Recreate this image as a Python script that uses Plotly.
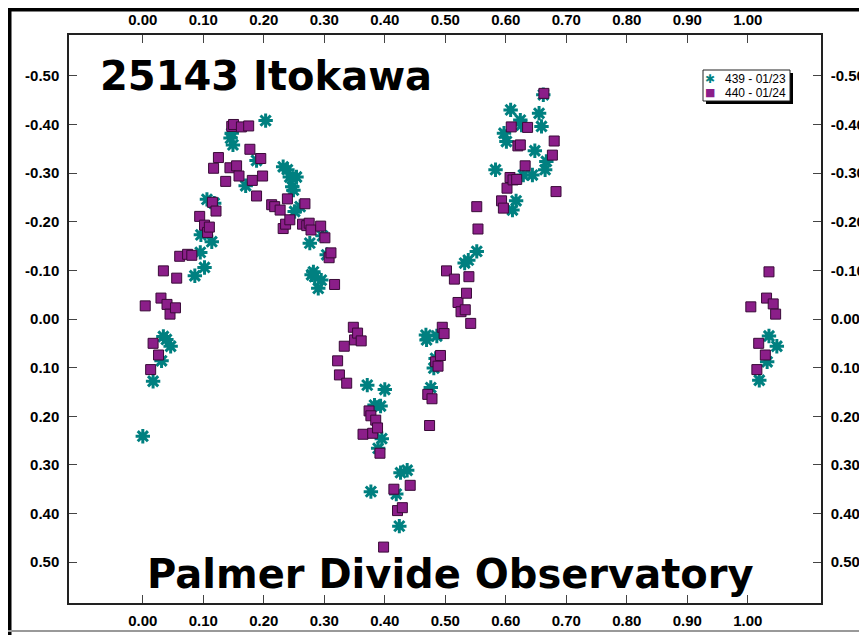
import plotly.graph_objects as go

# ---- data ----
phase_439 = [0.000, 0.017, 0.031, 0.034, 0.039, 0.046, 0.086, 0.095, 0.096, 0.102,
             0.106, 0.114, 0.118, 0.145, 0.147, 0.149, 0.170, 0.188, 0.203, 0.232,
             0.239, 0.243, 0.254, 0.247, 0.249, 0.251, 0.260, 0.276, 0.279, 0.282,
             0.284, 0.290, 0.295, 0.297, 0.304, 0.371, 0.377, 0.383, 0.389, 0.393,
             0.395, 0.400, 0.419, 0.424, 0.426, 0.437, 0.468, 0.469, 0.476, 0.481,
             0.484, 0.486, 0.532, 0.538, 0.552, 0.583, 0.597, 0.601, 0.608, 0.611,
             0.617, 0.624, 0.626, 0.629, 0.644, 0.648, 0.655, 0.659, 0.662, 0.665,
             0.667, 1.019, 1.032, 1.035, 1.048]
mag_439 = [0.241, 0.128, 0.086, 0.036, 0.042, 0.056, -0.089, -0.137, -0.173, -0.106,
           -0.246, -0.159, -0.238, -0.372, -0.382, -0.358, -0.274, -0.326, -0.408, -0.313,
           -0.307, -0.292, -0.292, -0.272, -0.265, -0.221, -0.231, -0.156, -0.091, -0.097,
           -0.087, -0.063, -0.080, -0.171, -0.132, 0.136, 0.355, 0.177, 0.266, 0.179,
           0.246, 0.145, 0.360, 0.426, 0.316, 0.311, 0.033, 0.043, 0.141, 0.101,
           0.081, 0.035, -0.115, -0.121, -0.139, -0.307, -0.382, -0.365, -0.430, -0.224,
           -0.243, -0.409, -0.399, -0.296, -0.296, -0.346, -0.423, -0.396, -0.461, -0.307,
           -0.324, 0.126, 0.088, 0.035, 0.056]

phase_440 = [0.004, 0.013, 0.017, 0.026, 0.030, 0.034, 0.040, 0.045, 0.054, 0.056,
             0.061, 0.074, 0.081, 0.094, 0.102, 0.107, 0.110, 0.115, 0.117, 0.121,
             0.125, 0.137, 0.144, 0.147, 0.150, 0.155, 0.159, 0.163, 0.175, 0.177,
             0.181, 0.188, 0.195, 0.198, 0.213, 0.218, 0.227, 0.232, 0.236, 0.239,
             0.243, 0.264, 0.268, 0.271, 0.275, 0.278, 0.294, 0.301, 0.308, 0.311,
             0.317, 0.322, 0.325, 0.333, 0.337, 0.348, 0.350, 0.355, 0.361, 0.364,
             0.374, 0.377, 0.380, 0.385, 0.388, 0.392, 0.398, 0.415, 0.421, 0.429,
             0.442, 0.471, 0.474, 0.478, 0.484, 0.488, 0.492, 0.495, 0.498, 0.502,
             0.515, 0.521, 0.526, 0.533, 0.535, 0.542, 0.539, 0.552, 0.554, 0.593,
             0.596, 0.602, 0.607, 0.609, 0.612, 0.618, 0.620, 0.624, 0.632, 0.636,
             0.663, 0.677, 0.680, 0.683, 1.005, 1.015, 1.018, 1.029, 1.031, 1.035,
             1.042, 1.046]
mag_440 = [-0.027, 0.104, 0.050, 0.074, -0.043, -0.099, -0.030, -0.010, -0.023, -0.084,
           -0.129, -0.133, -0.131, -0.211, -0.193, -0.178, -0.189, -0.240, -0.310, -0.222,
           -0.332, -0.283, -0.311, -0.396, -0.400, -0.315, -0.294, -0.395, -0.397, -0.349,
           -0.285, -0.253, -0.330, -0.294, -0.235, -0.231, -0.224, -0.186, -0.195, -0.247,
           -0.204, -0.195, -0.237, -0.192, -0.197, -0.183, -0.191, -0.167, -0.126, -0.136,
           -0.071, 0.086, 0.115, 0.056, 0.132, 0.017, 0.043, 0.029, 0.045, 0.237,
           0.189, 0.199, 0.235, 0.208, 0.224, 0.276, 0.469, 0.350, 0.394, 0.388,
           0.342, 0.155, 0.219, 0.164, 0.088, 0.097, 0.075, 0.017, 0.030, -0.099,
           -0.082, -0.034, -0.015, -0.019, -0.053, 0.009, -0.087, -0.231, -0.185, -0.243,
           -0.228, -0.269, -0.291, -0.395, -0.286, -0.287, -0.356, -0.358, -0.315, -0.394,
           -0.464, -0.337, -0.366, -0.262, -0.025, 0.104, 0.050, 0.074, -0.043, -0.097,
           -0.031, -0.010]

xtick_vals = [0.0, 0.1, 0.2, 0.3, 0.4, 0.5, 0.6, 0.7, 0.8, 0.9, 1.0]
xtick_labels = ["0.00", "0.10", "0.20", "0.30", "0.40", "0.50", "0.60", "0.70", "0.80", "0.90", "1.00"]
ytick_vals = [-0.5, -0.4, -0.3, -0.2, -0.1, 0.0, 0.1, 0.2, 0.3, 0.4, 0.5]
ytick_labels = ["-0.50", "-0.40", "-0.30", "-0.20", "-0.10", "0.00", "0.10", "0.20", "0.30", "0.40", "0.50"]

title_text = "25143 Itokawa"
footer_text = "Palmer Divide Observatory"
name_439 = "439 - 01/23"
name_440 = "440 - 01/24"

XR = [-0.122, 1.121]
YR = [0.584, -0.584]

TEAL = "#008080"
PURPLE = "#8B1E89"
FONT = "Liberation Sans, Arial, sans-serif"
HEAVY = "DejaVu Sans, Liberation Sans, sans-serif"

# plot-area geometry in figure pixels (used to place paper-relative decorations)
L, R, T, B = 61, 54, 27, 40
W, H = 867, 635
PW, PH = W - L - R, H - T - B


def px(fx):
    return (fx - L) / PW


def py(fy):
    return (H - B - fy) / PH


fig = go.Figure()
fig.add_trace(go.Scatter(
    x=phase_439, y=mag_439, mode="markers", name=name_439,
    marker=dict(symbol="asterisk-open", size=12, color=TEAL,
                line=dict(color=TEAL, width=3))))
fig.add_trace(go.Scatter(
    x=phase_440, y=mag_440, mode="markers", name=name_440,
    marker=dict(symbol="square", size=10, color=PURPLE,
                line=dict(color="#3a0a38", width=1))))
# dummy trace to activate the mirrored axes
fig.add_trace(go.Scatter(x=[None], y=[None], xaxis="x2", yaxis="y2",
                         showlegend=False, hoverinfo="skip"))

axcommon = dict(showgrid=False, zeroline=False, showline=True, linecolor="#222",
                linewidth=1.5, ticks="inside", tickcolor="#444", tickwidth=1)
xfont = dict(family=FONT, size=15, color="black", weight="bold")
yfont = dict(family=FONT, size=15, color="black", weight="bold")

fig.update_layout(
    width=W, height=H,
    margin=dict(l=L, r=R, t=T, b=B, autoexpand=False),
    paper_bgcolor="white", plot_bgcolor="white",
    showlegend=False,
    xaxis=dict(range=XR, tickvals=xtick_vals, ticktext=xtick_labels, ticklen=8,
               tickfont=xfont, side="bottom", ticklabelstandoff=3, **axcommon),
    xaxis2=dict(range=XR, tickvals=xtick_vals, ticktext=xtick_labels, ticklen=8,
                tickfont=xfont, overlaying="x", side="top", ticklabelstandoff=2, **axcommon),
    yaxis=dict(range=YR, tickvals=ytick_vals, ticktext=ytick_labels, ticklen=8,
               tickfont=yfont, side="left", ticklabelstandoff=5, **axcommon),
    yaxis2=dict(range=YR, tickvals=ytick_vals, ticktext=ytick_labels, ticklen=8,
                tickfont=yfont, overlaying="y", side="right", ticklabelstandoff=5, **axcommon),
    font=dict(family=FONT),
)

fig.add_annotation(x=px(90), y=py(68), xref="paper", yref="paper", xanchor="left", yanchor="middle",
                   text="<b>" + title_text + "</b>", showarrow=False,
                   font=dict(family=HEAVY, size=40, color="black"))
fig.add_annotation(x=px(442), y=py(566), xref="paper", yref="paper", xanchor="center", yanchor="middle",
                   text="<b>" + footer_text + "</b>", showarrow=False,
                   font=dict(family=HEAVY, size=40, color="black"))

# manual legend: shadow, box, symbols, labels
fig.add_shape(type="rect", xref="paper", yref="paper",
              x0=px(698), x1=px(785), y0=py(96), y1=py(65),
              fillcolor="black", line=dict(width=0), layer="above")
fig.add_shape(type="rect", xref="paper", yref="paper",
              x0=px(695), x1=px(782), y0=py(93), y1=py(62),
              fillcolor="white", line=dict(color="#222", width=1), layer="above")
fig.add_annotation(x=px(702), y=py(71), xref="paper", yref="paper", xanchor="center", yanchor="middle",
                   text="✱", showarrow=False, borderpad=0,
                   font=dict(family=HEAVY, size=12, color=TEAL))
fig.add_annotation(x=px(702), y=py(85), xref="paper", yref="paper", xanchor="center", yanchor="middle",
                   text="■", showarrow=False, borderpad=0,
                   font=dict(family=HEAVY, size=11, color=PURPLE))
fig.add_annotation(x=px(716), y=py(71), xref="paper", yref="paper", xanchor="left", yanchor="middle",
                   text=name_439, showarrow=False, borderpad=0,
                   font=dict(family=FONT, size=12, color="black"))
fig.add_annotation(x=px(716), y=py(85), xref="paper", yref="paper", xanchor="left", yanchor="middle",
                   text=name_440, showarrow=False, borderpad=0,
                   font=dict(family=FONT, size=12, color="black"))

# outer frame
fig.add_shape(type="line", xref="paper", yref="paper",
              x0=px(0), x1=px(880), y0=py(1.5), y1=py(1.5),
              line=dict(color="black", width=4), layer="above")
fig.add_shape(type="line", xref="paper", yref="paper",
              x0=px(1.5), x1=px(1.5), y0=py(0), y1=py(640),
              line=dict(color="black", width=4), layer="above")
fig.add_shape(type="line", xref="paper", yref="paper",
              x0=px(0), x1=px(880), y0=py(623), y1=py(623),
              line=dict(color="#999", width=2), layer="above")

fig.write_html("out.html")
